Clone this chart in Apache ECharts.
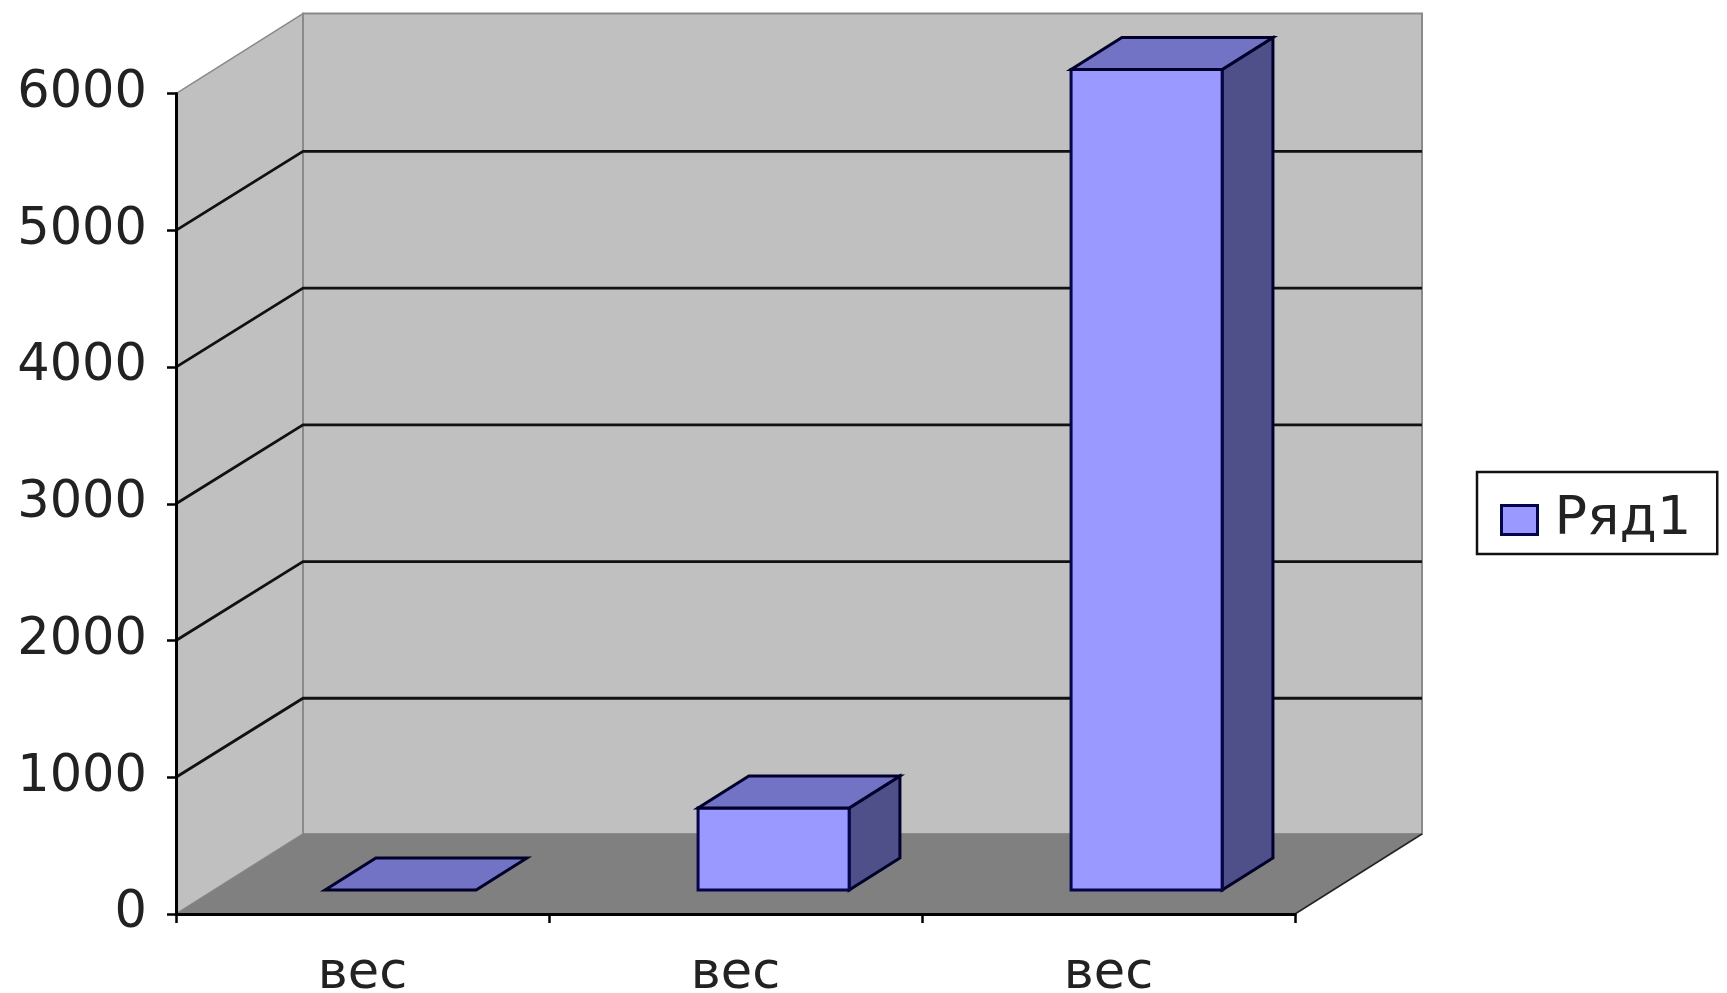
<!DOCTYPE html>
<html>
<head>
<meta charset="utf-8">
<style>html,body{margin:0;padding:0;background:#fff}#c{width:1727px;height:993px}</style>
<script src="https://cdn.jsdelivr.net/npm/echarts@6/dist/echarts.min.js"></script>
</head>
<body>
<div id="c"></div>
<script>
const categories = ['вес', 'вес', 'вес'];
const seriesName = 'Ряд1';
const values = [0, 600, 6000];
const yTicks = [0, 1000, 2000, 3000, 4000, 5000, 6000];

const DX = 127, DY = -80;          // full depth of the 3D box
const F0 = 0.30, F1 = 0.70;        // front / rear depth of bars as a share of box depth
const BAR = 0.405;                 // bar width as a share of category band
const FONT = 'DejaVu Sans';
const NAVY = '#05054a';
const DARK = '#00002a';

function poly(points, fill, stroke, lw) {
  return { type: 'polygon', shape: { points }, style: { fill, stroke: stroke || null, lineWidth: lw || 0, lineJoin: 'miter' } };
}

function renderWalls(params, api) {
  const cs = params.coordSys;
  const l = cs.x, r = cs.x + cs.width, t = cs.y, b = cs.y + cs.height;
  return { type: 'group', children: [
    poly([[l, t], [l + DX, t + DY], [l + DX, b + DY], [l, b]], '#c0c0c0', '#8a8a8a', 1.5),
    poly([[l + DX, t + DY], [r + DX, t + DY], [r + DX, b + DY], [l + DX, b + DY]], '#c0c0c0', '#8a8a8a', 2),
    poly([[l, b], [r, b], [r + DX, b + DY], [l + DX, b + DY]], '#808080'),
    { type: 'line', shape: { x1: r, y1: b, x2: r + DX, y2: b + DY }, style: { stroke: '#222', lineWidth: 1.5 } }
  ]};
}

function renderGrid(params, api) {
  const cs = params.coordSys;
  const v = api.value(1);
  if (v === 0 || v === 6000) return null;
  const y = api.coord([0, v])[1];
  const l = cs.x, r = cs.x + cs.width;
  return { type: 'polyline', shape: { points: [[l, y], [l + DX, y + DY + 1], [r + DX, y + DY + 1]] },
    style: { fill: null, stroke: '#111', lineWidth: 2.8 } };
}

function renderBar(params, api) {
  const c = api.coord([api.value(0), api.value(1)]);
  const base = api.coord([api.value(0), 0])[1];
  const w = api.size([1, 0])[0] * BAR;
  const x0 = c[0] - w / 2 + DX * F0, x1 = x0 + w;
  const yt = c[1] + DY * F0, yb = base + DY * F0;
  const ex = DX * (F1 - F0), ey = DY * (F1 - F0);
  const kids = [];
  if (yb - yt > 0.5) {
    kids.push(poly([[x1, yt], [x1 + ex, yt + ey], [x1 + ex, yb + ey], [x1, yb]], '#4f4f8a', DARK, 3));
    kids.push(poly([[x0, yt], [x1, yt], [x1, yb], [x0, yb]], '#9999ff', NAVY, 3));
  }
  kids.push(poly([[x0, yt], [x1, yt], [x1 + ex, yt + ey], [x0 + ex, yt + ey]], '#7373c6', DARK, 3));
  return { type: 'group', children: kids };
}

const chart = echarts.init(document.getElementById('c'), null, { renderer: 'canvas' });
chart.setOption({
  animation: false,
  backgroundColor: '#fff',
  grid: { left: 176, right: 432, top: 93.6, bottom: 79, containLabel: false, outerBoundsMode: 'none' },
  legend: {
    show: true, left: 1477, top: 472,
    orient: 'vertical',
    backgroundColor: '#fff',
    borderColor: '#111', borderWidth: 2.5, borderRadius: 0,
    padding: [21, 26, 7, 23],
    itemWidth: 36, itemHeight: 29,
    selectedMode: false,
    textStyle: { fontFamily: FONT, fontSize: 54, color: '#222', lineHeight: 40, padding: [0, 0, 0, 12] },
    data: [{ name: seriesName, icon: 'rect', itemStyle: { color: '#9999ff', borderColor: NAVY, borderWidth: 3 } }]
  },
  xAxis: {
    type: 'category', data: categories, z: 5,
    axisLine: { show: true, lineStyle: { color: '#000', width: 3 } },
    axisTick: { show: true, length: 9, lineStyle: { color: '#000', width: 2.5 } },
    axisLabel: { show: true, interval: 0, margin: 35, fontFamily: FONT, fontSize: 51, color: '#222' },
    splitLine: { show: false }
  },
  yAxis: {
    type: 'value', min: 0, max: 6000, interval: 1000, z: 5,
    axisLine: { show: true, lineStyle: { color: '#000', width: 3 } },
    axisTick: { show: true, length: 9, lineStyle: { color: '#000', width: 2.5 } },
    axisLabel: { show: true, margin: 29, padding: [13, 0, 0, 0], fontFamily: FONT, fontSize: 51, color: '#222',
      formatter: v => String(v) },
    splitLine: { show: false }
  },
  series: [
    { type: 'custom', name: 'walls', z: 0, silent: true, renderItem: renderWalls, data: [[0, 0]], encode: { x: 0, y: 1 } },
    { type: 'custom', name: 'gridlines', z: 1, silent: true, renderItem: renderGrid,
      data: yTicks.map(v => [0, v]), encode: { x: 0, y: 1 } },
    { type: 'custom', name: seriesName, z: 3, renderItem: renderBar,
      data: values.map((v, i) => [i, v]), encode: { x: 0, y: 1 } }
  ]
});
</script>
</body>
</html>
